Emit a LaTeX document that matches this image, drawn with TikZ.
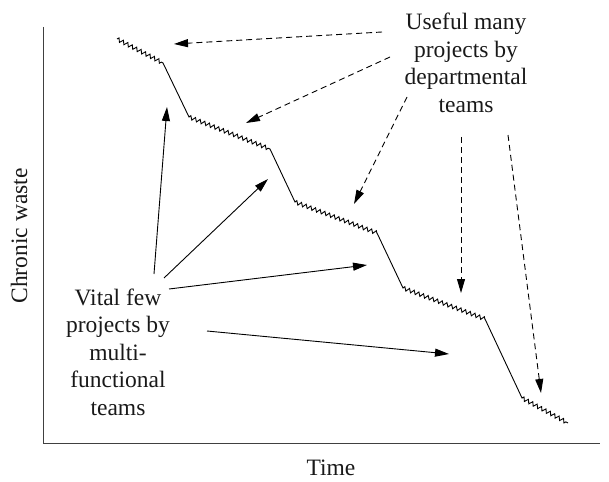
\documentclass[tikz,border=0pt]{standalone}
\usepackage{fontspec}
\setmainfont{Liberation Serif}
\usetikzlibrary{arrows.meta,decorations.pathmorphing}
\begin{document}
\begin{tikzpicture}[x=1pt,y=-1pt,
  lbl/.style={font=\fontsize{23.5}{27.5}\selectfont, align=center, inner sep=0pt, text=black!90},
  axis/.style={line width=1pt, draw=black!75},
  curve/.style={line width=0.9pt},
  zz/.style={decoration={zigzag, segment length=5pt, amplitude=1.9pt}},
  solidarrow/.style={line width=0.9pt, -{Triangle[length=14pt,width=8pt]}},
  dasharrow/.style={line width=0.9pt, dash pattern=on 6pt off 4pt, -{Triangle[length=14pt,width=8pt]}}]
\useasboundingbox (0,0) rectangle (609,481);

% axes
\coordinate (origin) at (43,443);
\coordinate (ytop) at (43,27);
\coordinate (xend) at (600,443);
\draw[axis] (ytop) -- (origin) -- (xend);

% axis labels
\node[lbl, rotate=90] (ylabel) at (19,236) {Chronic waste};
\node[lbl] (xlabel) at (331,468) {Time};

% staircase of chronic waste
\coordinate (p1) at (117,39);
\coordinate (p2) at (163,63);
\coordinate (p3) at (189,117);
\coordinate (p4) at (270,149);
\coordinate (p5) at (295,202);
\coordinate (p6) at (377,233);
\coordinate (p7) at (403,288);
\coordinate (p8) at (485,319);
\coordinate (p9) at (522,398);
\coordinate (p10) at (568,423);
\draw[curve] (p1) decorate[zz]{-- (p2)} -- (p3)
  decorate[zz]{-- (p4)} -- (p5)
  decorate[zz]{-- (p6)} -- (p7)
  decorate[zz]{-- (p8)} -- (p9)
  decorate[zz]{-- (p10)};

% labels
\node[lbl] (useful) at (466,63) {Useful many\\projects by\\departmental\\teams};
\node[lbl] (vital) at (118,352) {Vital few\\projects by\\multi-\\functional\\teams};

% vital few: solid arrows to the steep drops
\coordinate (v1s) at (154,274); \coordinate (v1e) at (167,107);
\coordinate (v2s) at (164,278); \coordinate (v2e) at (268,179);
\coordinate (v3s) at (169,289); \coordinate (v3e) at (367,265);
\coordinate (v4s) at (207,331); \coordinate (v4e) at (449,354);
\draw[solidarrow] (v1s) -- (v1e);
\draw[solidarrow] (v2s) -- (v2e);
\draw[solidarrow] (v3s) -- (v3e);
\draw[solidarrow] (v4s) -- (v4e);

% useful many: dashed arrows to the slow slopes
\coordinate (u1s) at (382,32); \coordinate (u1e) at (174,44);
\coordinate (u2s) at (390,57); \coordinate (u2e) at (246,123);
\coordinate (u3s) at (407,97); \coordinate (u3e) at (354,204);
\coordinate (u4s) at (461,137); \coordinate (u4e) at (461,293);
\coordinate (u5s) at (508,135); \coordinate (u5e) at (541,393);
\draw[dasharrow] (u1s) -- (u1e);
\draw[dasharrow] (u2s) -- (u2e);
\draw[dasharrow] (u3s) -- (u3e);
\draw[dasharrow] (u4s) -- (u4e);
\draw[dasharrow] (u5s) -- (u5e);
\end{tikzpicture}
\end{document}
